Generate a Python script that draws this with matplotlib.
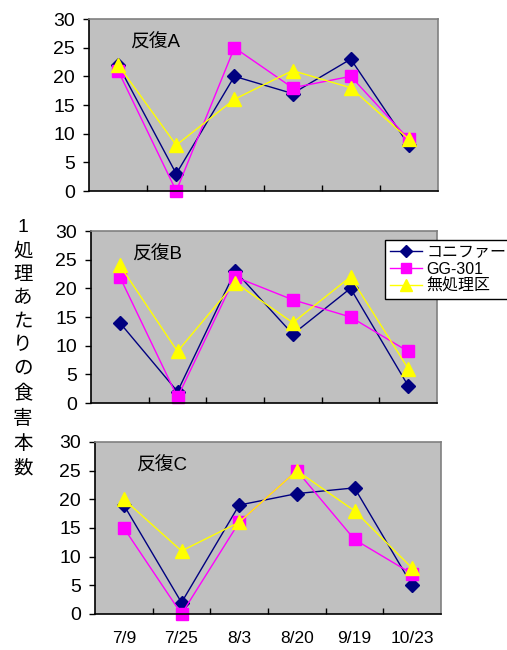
import numpy as np
import matplotlib
matplotlib.use("Agg")
from matplotlib import pyplot as plt
from matplotlib.ticker import FixedLocator

plt.rcParams['font.family'] = ['Liberation Sans', 'Noto Sans CJK JP', 'DejaVu Sans']

dates = ["7/9", "7/25", "8/3", "8/20", "9/19", "10/23"]
series_names = ["コニファー", "GG-301", "無処理区"]
panel_titles = ["反復A", "反復B", "反復C"]

# 反復A
conifer_a = [22, 3, 20, 17, 23, 8]
gg301_a = [21, 0, 25, 18, 20, 9]
control_a = [22, 8, 16, 21, 18, 9]
# 反復B
conifer_b = [14, 2, 23, 12, 20, 3]
gg301_b = [22, 1, 22, 18, 15, 9]
control_b = [24, 9, 21, 14, 22, 6]
# 反復C
conifer_c = [19, 2, 19, 21, 22, 5]
gg301_c = [15, 0, 16, 25, 13, 7]
control_c = [20, 11, 16, 25, 18, 8]

panels = [
    (conifer_a, gg301_a, control_a),
    (conifer_b, gg301_b, control_b),
    (conifer_c, gg301_c, control_c),
]

styles = [
    dict(color="#000080", marker="D", markersize=7),
    dict(color="#FF00FF", marker="s", markersize=8),
    dict(color="#FFFF00", marker="^", markersize=10),
]

W, H = 507, 650
fig = plt.figure(figsize=(W / 100, H / 100), dpi=100)

# axes boxes in pixels: left, top, right, bottom
boxes = [(89, 19, 438, 191), (91, 231, 437, 403), (95, 442, 441, 614)]

x = np.arange(len(dates))
for i, ((l, t, r, b), data) in enumerate(zip(boxes, panels)):
    ax = fig.add_axes([l / W, 1 - b / H, (r - l) / W, (b - t) / H])
    ax.set_facecolor("#C0C0C0")
    handles = []
    for vals, name, st in zip(data, series_names, styles):
        h, = ax.plot(x, vals, lw=1, color=st["color"], marker=st["marker"],
                     markersize=st["markersize"], markerfacecolor=st["color"],
                     markeredgecolor=st["color"], label=name, clip_on=False)
        handles.append(h)
    ax.set_xlim(-0.5, len(dates) - 0.5)
    ax.set_ylim(0, 30)
    ax.set_yticks(range(0, 31, 5))
    ax.tick_params(axis="y", direction="out", length=4, width=1, labelsize=14, pad=6)
    # category boundaries carry the tick marks, labels sit at centres
    ax.xaxis.set_minor_locator(FixedLocator(np.arange(0.5, len(dates) - 1, 1)))
    ax.tick_params(axis="x", which="minor", direction="in", length=4, width=1)
    ax.set_xticks(x)
    ax.tick_params(axis="x", which="major", length=0, pad=12, labelsize=12.5)
    if i == 2:
        ax.set_xticklabels(dates)
    else:
        ax.set_xticklabels([])
    for side in ["left", "bottom"]:
        ax.spines[side].set_color("black")
        ax.spines[side].set_linewidth(1.2)
    for side in ["top", "right"]:
        ax.spines[side].set_color("#808080")
        ax.spines[side].set_linewidth(1.2)
    ax.text(0.118, 0.86, panel_titles[i], transform=ax.transAxes, fontsize=13.5,
            va="center", ha="left")
    if i == 1:
        leg = ax.legend(handles=handles, loc="upper left",
                        bbox_to_anchor=((385 - l) / (r - l), 1 - (240 - t) / (b - t)),
                        fontsize=11.5, frameon=True, fancybox=False, framealpha=1,
                        edgecolor="black", handlelength=2.0, handletextpad=0.3,
                        borderpad=0.3, labelspacing=0.12, borderaxespad=0,
                        markerscale=0.85)
        leg.get_frame().set_linewidth(1)

ylabel = "\n".join("1処理あたりの食害本数")
fig.text(23 / W, 1 - 348 / H, ylabel, fontsize=14, ha="center", va="center",
         linespacing=1.5)

fig.savefig("out.png", dpi=100)
